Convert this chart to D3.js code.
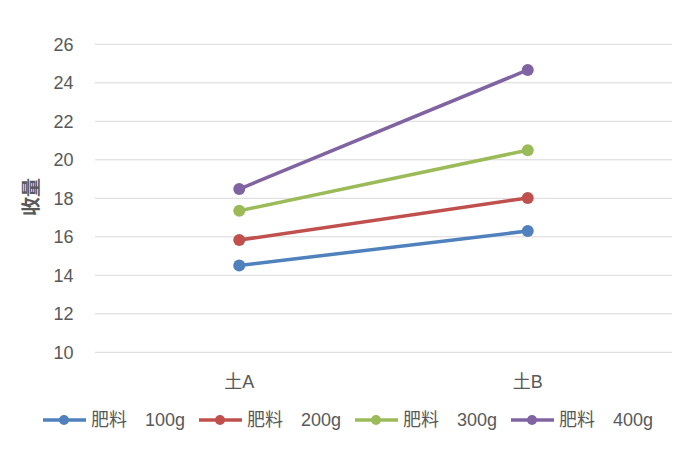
<!DOCTYPE html>
<html><head><meta charset="utf-8">
<script src="https://cdn.jsdelivr.net/npm/d3@7"></script>
<style>body{margin:0;background:#fff;font-family:"Liberation Sans","Noto Sans CJK SC",sans-serif;}</style>
</head><body><svg id="c" width="696" height="451"></svg>
<script>
const categories = ["土A", "土B"];
const seriesNames = ["肥料　100g", "肥料　200g", "肥料　300g", "肥料　400g"];
const s100 = [14.51, 16.30];
const s200 = [15.83, 18.02];
const s300 = [17.35, 20.50];
const s400 = [18.48, 24.67];
const yTicks = [10, 12, 14, 16, 18, 20, 22, 24, 26];
const colors = ["#4f81bd", "#c0504d", "#9bbb59", "#8064a2"];
const series = [s100, s200, s300, s400];

const svg = d3.select("#c");
const x = d3.scaleBand().domain(categories).range([95, 672]);
const y = d3.scaleLinear().domain([10, 26]).range([352.3, 44.3]);

svg.append("g").selectAll("line").data(yTicks).join("line")
  .attr("x1", 95).attr("x2", 672)
  .attr("y1", d => y(d)).attr("y2", d => y(d))
  .attr("stroke", "#d9d9d9").attr("stroke-width", 1);

svg.append("g").selectAll("text").data(yTicks).join("text")
  .attr("x", 73.5).attr("y", d => y(d)).attr("dy", "0.35em")
  .attr("text-anchor", "end").attr("font-size", 18).attr("fill", "#595959")
  .text(d => d);

svg.append("g").selectAll("text").data(categories).join("text")
  .attr("x", d => x(d) + x.bandwidth() / 2).attr("y", 382).attr("dy", "0.35em")
  .attr("text-anchor", "middle").attr("font-size", 18).attr("fill", "#595959")
  .text(d => d);

svg.append("text").attr("transform", "translate(31,197) rotate(-90)")
  .attr("text-anchor", "middle").attr("dy", "0.35em")
  .attr("font-size", 19).attr("font-weight", "bold").attr("fill", "#595959")
  .text("收量");

const line = d3.line().x((d, i) => x(categories[i]) + x.bandwidth() / 2).y(d => y(d));
series.forEach((s, k) => {
  svg.append("path").attr("d", line(s)).attr("fill", "none")
    .attr("stroke", colors[k]).attr("stroke-width", 3.5);
  svg.append("g").selectAll("circle").data(s).join("circle")
    .attr("cx", (d, i) => x(categories[i]) + x.bandwidth() / 2).attr("cy", d => y(d))
    .attr("r", 6).attr("fill", colors[k]);
});

const legendX = [43, 199, 355, 511];
const ly = 420;
seriesNames.forEach((n, k) => {
  const g = svg.append("g").attr("transform", `translate(${legendX[k]},${ly})`);
  g.append("line").attr("x1", 0).attr("x2", 43).attr("stroke", colors[k]).attr("stroke-width", 3.5);
  g.append("circle").attr("cx", 21).attr("r", 5).attr("fill", colors[k]);
  g.append("text").attr("x", 48).attr("dy", "0.35em").attr("font-size", 18).attr("fill", "#595959")
    .attr("xml:space", "preserve").text(n);
});
</script></body></html>
